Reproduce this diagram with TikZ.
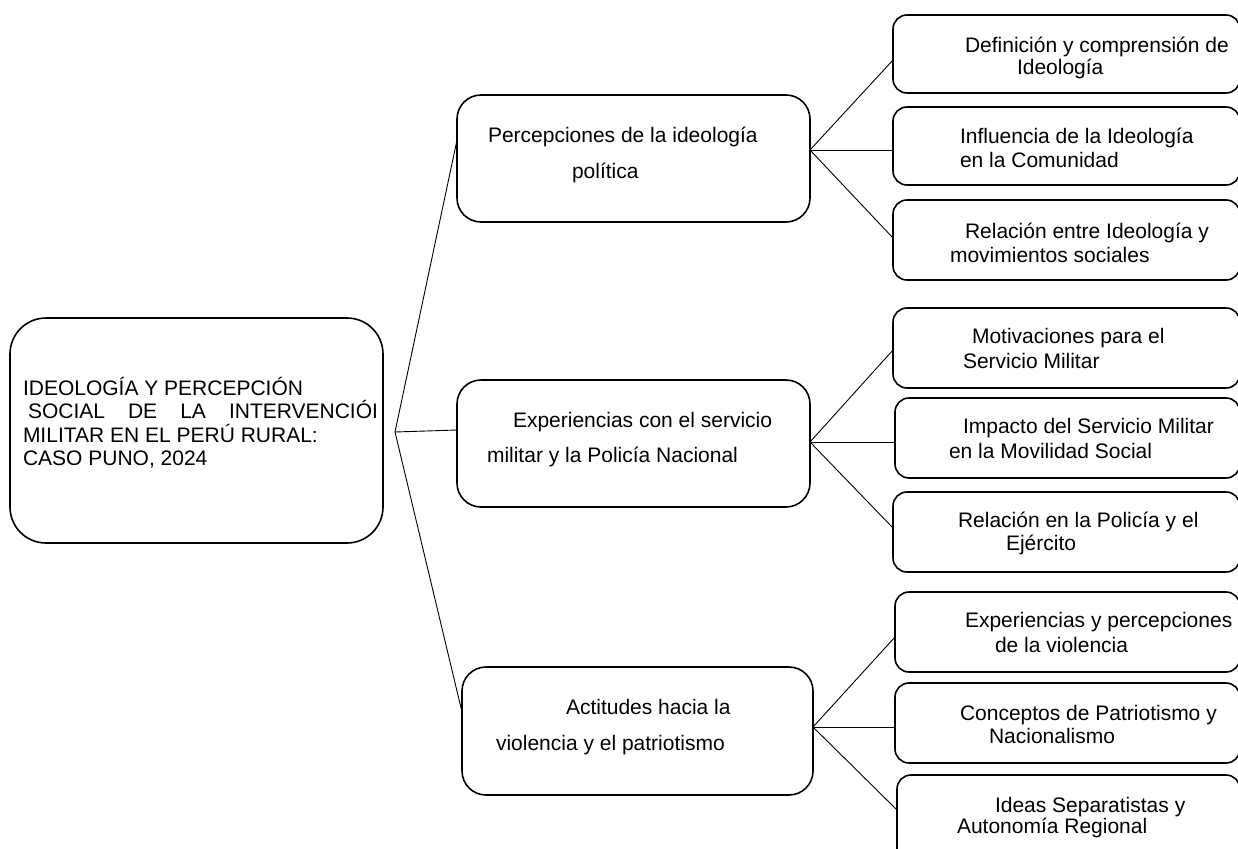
\documentclass[tikz,border=0pt]{standalone}
\usepackage{fontspec}
\setmainfont{Liberation Sans}
\begin{document}
\begin{tikzpicture}[x=1pt,y=-1pt,
  box/.style={draw=black,line width=1.6pt,rectangle,inner sep=0pt,outer sep=0pt},
  rootbox/.style={box,rounded corners=36pt},
  midbox/.style={box,rounded corners=24pt},
  leafbox/.style={box,rounded corners=14pt},
  link/.style={draw=black,line width=0.9pt},
  txt/.style={anchor=base west,inner sep=0pt,outer sep=0pt,font=\fontsize{21}{23}\selectfont}]
\useasboundingbox (0,0) rectangle (1238,848);
\clip (0,0) rectangle (1238,848);
% root
\node[rootbox,minimum width=373pt,minimum height=225pt] (root) at (196.5,430.5) {};
\node[txt] (r1) at (23,395) {IDEOLOGÍA Y PERCEPCIÓN};
\node[txt] (r2) at (28,418) {\makebox[350pt][s]{SOCIAL\hfill DE\hfill LA\hfill INTERVENCIÓI}};
\node[txt] (r3) at (23,442) {MILITAR EN EL PERÚ RURAL:};
\node[txt] (r4) at (23,465) {CASO PUNO, 2024};
\coordinate (rf) at (395,432);
% middle boxes
\node[midbox,minimum width=353pt,minimum height=127pt] (m1) at (633.5,158.5) {};
\node[midbox,minimum width=353pt,minimum height=127pt] (m2) at (633.5,443.5) {};
\node[midbox,minimum width=351pt,minimum height=128pt] (m3) at (637.5,731) {};
\node[txt] (m1a) at (488,142) {Percepciones de la ideología};
\node[txt] (m1b) at (572,178) {política};
\node[txt] (m2a) at (513,427) {Experiencias con el servicio};
\node[txt] (m2b) at (487,462) {militar y la Policía Nacional};
\node[txt] (m3a) at (566,714) {Actitudes hacia la};
\node[txt] (m3b) at (496,750) {violencia y el patriotismo};
% leaf boxes
\node[leafbox,minimum width=347pt,minimum height=78pt] (la) at (1066.5,54) {};
\node[leafbox,minimum width=347pt,minimum height=78pt] (lb) at (1066.5,146) {};
\node[leafbox,minimum width=347pt,minimum height=80pt] (lc) at (1066.5,240) {};
\node[leafbox,minimum width=347pt,minimum height=80pt] (ld) at (1066.5,348) {};
\node[leafbox,minimum width=345pt,minimum height=80pt] (le) at (1067.5,438) {};
\node[leafbox,minimum width=347pt,minimum height=80pt] (lf) at (1066.5,532) {};
\node[leafbox,minimum width=345pt,minimum height=80pt] (lg) at (1067.5,632) {};
\node[leafbox,minimum width=345pt,minimum height=80pt] (lh) at (1067.5,723) {};
\node[leafbox,minimum width=343pt,minimum height=100pt] (li) at (1068.5,825) {};
\node[txt] (ta1) at (965,53) {Definición y comprensión de};
\node[txt] (ta2) at (1017,75) {Ideología};
\node[txt] (tb1) at (960,143) {Influencia de la Ideología};
\node[txt] (tb2) at (960,167) {en la Comunidad};
\node[txt] (tc1) at (965,238) {Relación entre Ideología y};
\node[txt] (tc2) at (950,262) {movimientos sociales};
\node[txt] (td1) at (972,343) {Motivaciones para el};
\node[txt] (td2) at (963,368) {Servicio Militar};
\node[txt] (te1) at (963,433) {Impacto del Servicio Militar};
\node[txt] (te2) at (949,458) {en la Movilidad Social};
\node[txt] (tf1) at (958,527) {Relación en la Policía y el};
\node[txt] (tf2) at (1006,550) {Ejército};
\node[txt] (tg1) at (965,627) {Experiencias y percepciones};
\node[txt] (tg2) at (995,652) {de la violencia};
\node[txt] (th1) at (960,720) {Conceptos de Patriotismo y};
\node[txt] (th2) at (989,743) {Nacionalismo};
\node[txt] (ti1) at (995,812) {Ideas Separatistas y};
\node[txt] (ti2) at (957,833) {Autonomía Regional};
% connectors from root
\draw[link] (rf) -- (m1.west |- {(0,140)});
\draw[link] (rf) -- (m2.west |- {(0,430)});
\draw[link] (rf) -- (m3.west |- {(0,712)});
% connectors from middle boxes
\coordinate (f1) at (810,150);
\coordinate (f2) at (810,442);
\coordinate (f3) at (813,727);
\draw[link] (f1) -- (la.west |- {(0,60)});
\draw[link] (f1) -- (lb.west |- {(0,150)});
\draw[link] (f1) -- (lc.west |- {(0,238)});
\draw[link] (f2) -- (ld.west |- {(0,350)});
\draw[link] (f2) -- (le.west |- {(0,442)});
\draw[link] (f2) -- (lf.west |- {(0,528)});
\draw[link] (f3) -- (lg.west |- {(0,637)});
\draw[link] (f3) -- (lh.west |- {(0,727)});
\draw[link] (f3) -- (li.west |- {(0,810)});
\end{tikzpicture}
\end{document}
